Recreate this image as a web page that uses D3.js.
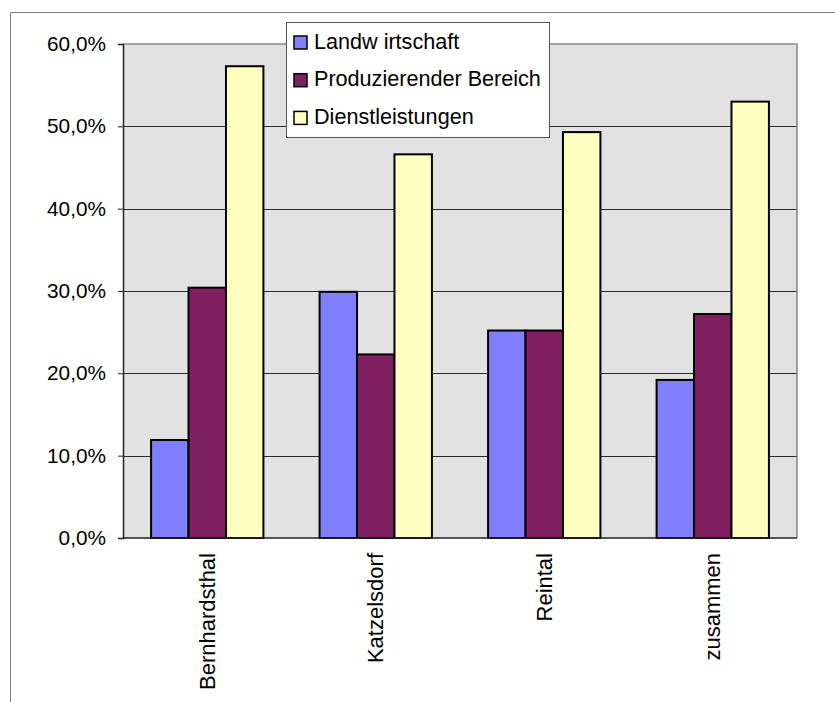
<!DOCTYPE html>
<html>
<head>
<meta charset="utf-8">
<script src="https://cdn.jsdelivr.net/npm/d3@7"></script>
<style>
  html, body { margin: 0; padding: 0; background: #fff; }
  svg { display: block; font-family: Arial, "Liberation Sans", sans-serif; }
</style>
</head>
<body>
<svg id="chart" width="835" height="702"></svg>
<script>
// Erwerbstätige nach Wirtschaftssektoren
const categories = ["Bernhardsthal", "Katzelsdorf", "Reintal", "zusammen"];
const seriesNames = ["Landw irtschaft", "Produzierender Bereich", "Dienstleistungen"];
const landwirtschaft = [0.119, 0.299, 0.252, 0.192];
const produzierend = [0.304, 0.223, 0.252, 0.272];
const dienstleistungen = [0.573, 0.466, 0.493, 0.530];
const seriesColors = ["#8080FF", "#802060", "#FFFFC0"];
const yTicks = [0, 0.1, 0.2, 0.3, 0.4, 0.5, 0.6];

const seriesValues = [landwirtschaft, produzierend, dienstleistungen];
const rows = categories.map((c, i) => ({
  cat: c,
  vals: seriesNames.map((s, j) => ({ key: s, value: seriesValues[j][i], color: seriesColors[j] }))
}));

const svg = d3.select("#chart");
const plot = { left: 123, right: 797, top: 44, bottom: 538 };

const de = d3.formatLocale({ decimal: ",", thousands: ".", grouping: [3], currency: ["", " €"] });
const pct = de.format(".1%");

// outer chart frame
svg.append("path")
  .attr("d", `M10.5,702 V12.5 H835`)
  .attr("fill", "none").attr("stroke", "#7a7a7a").attr("stroke-width", 1);

const x0 = d3.scaleBand().domain(categories).range([plot.left, plot.right]).padding(0);
const step = x0.bandwidth();
const barW = step / 4.5;
const x1 = d3.scaleBand().domain(seriesNames)
  .range([barW * 0.75, barW * 3.75]).padding(0);
const y = d3.scaleLinear().domain([0, 0.6]).range([plot.bottom, plot.top]);

// plot area background
svg.append("rect")
  .attr("x", plot.left).attr("y", plot.top)
  .attr("width", plot.right - plot.left).attr("height", plot.bottom - plot.top)
  .attr("fill", "#E2E2E2");

// horizontal gridlines
svg.append("g").selectAll("line")
  .data(yTicks.filter(t => t > 0 && t < 0.6))
  .join("line")
  .attr("x1", plot.left).attr("x2", plot.right)
  .attr("y1", d => Math.round(y(d)) + 0.5).attr("y2", d => Math.round(y(d)) + 0.5)
  .attr("stroke", "#2a2a2a").attr("stroke-width", 1);

// plot area top / right border
svg.append("path")
  .attr("d", `M${plot.left},${plot.top} H${plot.right} V${plot.bottom}`)
  .attr("fill", "none").attr("stroke", "#888").attr("stroke-width", 1.5);

// bars
const groups = svg.append("g").selectAll("g")
  .data(rows).join("g")
  .attr("transform", d => `translate(${x0(d.cat)},0)`);
groups.selectAll("rect")
  .data(d => d.vals).join("rect")
  .attr("x", d => x1(d.key))
  .attr("y", d => y(d.value))
  .attr("width", x1.bandwidth())
  .attr("height", d => y(0) - y(d.value))
  .attr("fill", d => d.color)
  .attr("stroke", "#000").attr("stroke-width", 2);

// y axis
const yAxis = d3.axisLeft(y).tickValues(yTicks).tickFormat(pct).tickSize(5).tickPadding(12);
const gy = svg.append("g").attr("transform", `translate(${plot.left},0)`).call(yAxis);
gy.select(".domain").attr("stroke", "#222").attr("stroke-width", 1.5);
gy.selectAll(".tick line").attr("stroke", "#222");
gy.selectAll(".tick text")
  .attr("font-size", 20.8).attr("fill", "#000")
  .attr("font-family", "Arial, 'Liberation Sans', sans-serif");

// x axis baseline
svg.append("line")
  .attr("x1", plot.left).attr("x2", plot.right)
  .attr("y1", plot.bottom).attr("y2", plot.bottom)
  .attr("stroke", "#222").attr("stroke-width", 1.5);

// category labels (rotated)
svg.append("g").selectAll("text")
  .data(categories).join("text")
  .attr("transform", d => `translate(${x0(d) + step / 2},553) rotate(-90)`)
  .attr("text-anchor", "end")
  .attr("dy", "0.35em")
  .attr("font-size", 22)
  .attr("fill", "#000")
  .text(d => d);

// legend
const legend = svg.append("g").attr("transform", "translate(286,22)");
legend.append("rect")
  .attr("x", 0.5).attr("y", 0.5).attr("width", 263).attr("height", 115)
  .attr("fill", "#fff").attr("stroke", "#555").attr("stroke-width", 1);
const items = legend.selectAll("g.item")
  .data(seriesNames.map((s, i) => ({ name: s, color: seriesColors[i] })))
  .join("g").attr("class", "item")
  .attr("transform", (d, i) => `translate(0,${i * 37.7})`);
items.append("rect")
  .attr("x", 8).attr("y", 14).attr("width", 13).attr("height", 13)
  .attr("fill", d => d.color).attr("stroke", "#000").attr("stroke-width", 1.5);
items.append("text")
  .attr("x", 28).attr("y", 26.5)
  .attr("font-size", 21.6).attr("fill", "#000")
  .text(d => d.name);
</script>
</body>
</html>
